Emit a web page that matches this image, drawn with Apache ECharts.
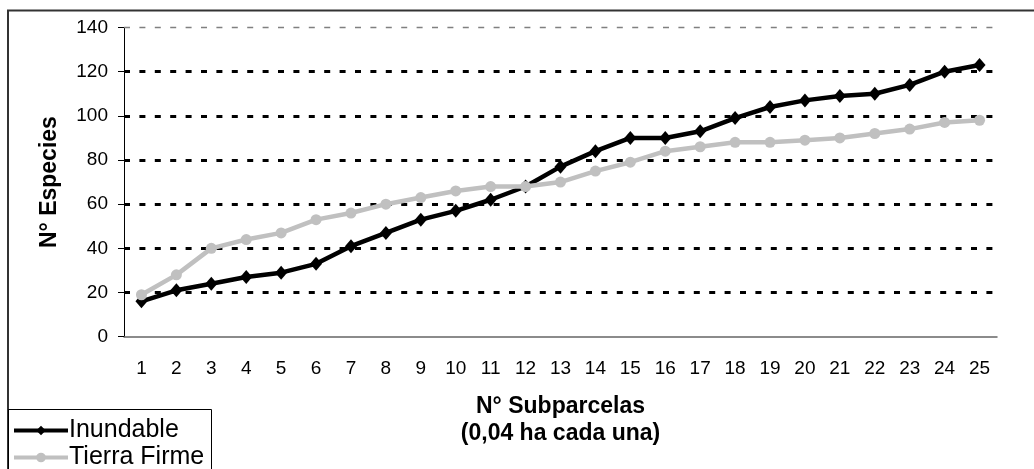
<!DOCTYPE html>
<html>
<head>
<meta charset="utf-8">
<script src="https://cdn.jsdelivr.net/npm/echarts@6/dist/echarts.min.js"></script>
<style>html,body{margin:0;padding:0;background:#fff;}#c{width:1034px;height:469px;}</style>
</head>
<body>
<div id="c"></div>
<script>
const categories = ['1','2','3','4','5','6','7','8','9','10','11','12','13','14','15','16','17','18','19','20','21','22','23','24','25'];
const inundable = [16,21,24,27,29,33,41,47,53,57,62,68,77,84,90,90,93,99,104,107,109,110,114,120,123];
const tierraFirme = [19,28,40,44,47,53,56,60,63,66,68,68,70,75,79,84,86,88,88,89,90,92,94,97,98];
const yTicks = {min: 0, max: 140, interval: 20};

const FONT = "'Liberation Sans', Arial, sans-serif";
const chart = echarts.init(document.getElementById('c'), null, {renderer: 'canvas'});
chart.setOption({
  animation: false,
  backgroundColor: '#fff',
  textStyle: {fontFamily: FONT},
  grid: {left: 124, right: 37, top: 27.5, bottom: 132.3},
  graphic: [
    {type: 'rect', shape: {x: 8, y: 10.5, width: 1100, height: 500}, style: {fill: 'none', stroke: '#333', lineWidth: 2}, z: 0, silent: true},
    {type: 'rect', shape: {x: 8.5, y: 409.5, width: 203, height: 100}, style: {fill: 'none', stroke: '#000', lineWidth: 1}, z: 0, silent: true}
  ],
  legend: {
    orient: 'vertical', left: 12, top: 418, height: 120,
    itemWidth: 54, itemHeight: 12, itemGap: 2, padding: 0,
    lineStyle: {width: 4},
    textStyle: {fontSize: 25, color: '#000', fontFamily: FONT, padding: [0,0,0,-4]},
    data: ['Inundable', 'Tierra Firme']
  },
  xAxis: {
    type: 'category', data: categories, boundaryGap: true,
    name: 'N° Subparcelas\n(0,04 ha cada una)', nameLocation: 'middle', nameGap: 56,
    nameTextStyle: {fontSize: 23, fontWeight: 'bold', color: '#000', lineHeight: 27, fontFamily: FONT},
    axisLine: {lineStyle: {color: '#666', width: 1.5}},
    axisTick: {interval: 0, length: 6, lineStyle: {color: '#666'}},
    axisLabel: {interval: 0, fontSize: 19, color: '#000', margin: 23, fontFamily: FONT},
    splitLine: {show: false}
  },
  yAxis: {
    type: 'value', min: yTicks.min, max: yTicks.max, interval: yTicks.interval,
    name: 'N° Especies', nameLocation: 'middle', nameGap: 63,
    nameTextStyle: {fontSize: 23, fontWeight: 'bold', color: '#000', fontFamily: FONT},
    axisLine: {show: true, lineStyle: {color: '#000', width: 1}},
    axisTick: {show: true, length: 6, lineStyle: {color: '#000'}},
    axisLabel: {fontSize: 19, color: '#000', margin: 16, fontFamily: FONT},
    splitLine: {show: true, lineStyle: {color: ['transparent','#000','#000','#000','#000','#000','#000','transparent'], width: 3, type: [6, 9.4]}}
  },
  series: [
    {
      name: 'Inundable', type: 'line', data: inundable,
      symbol: 'diamond', symbolSize: [12, 14], showAllSymbol: true,
      lineStyle: {color: '#000', width: 4.5}, itemStyle: {color: '#000'},
      z: 3,
      markLine: {
        silent: true, symbol: 'none', label: {show: false},
        lineStyle: {color: '#808080', width: 1.3, type: [6, 9.4]},
        data: [{yAxis: 140}]
      }
    },
    {
      name: 'Tierra Firme', type: 'line', data: tierraFirme,
      symbol: 'circle', symbolSize: 11, showAllSymbol: true,
      lineStyle: {color: '#c0c0c0', width: 4.5}, itemStyle: {color: '#c0c0c0'},
      z: 4
    }
  ]
});
</script>
</body>
</html>
